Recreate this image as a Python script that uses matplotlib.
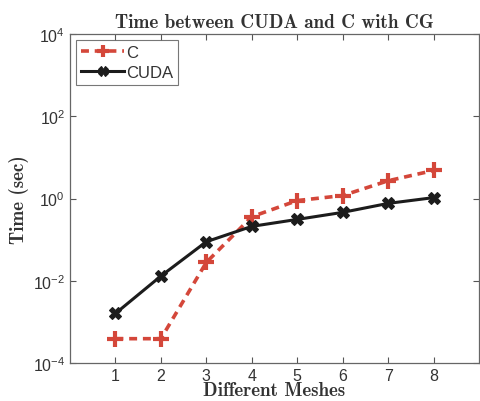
import matplotlib
matplotlib.use("Agg")
import matplotlib.pyplot as plt
from matplotlib.ticker import FixedLocator, NullLocator

meshes = [1, 2, 3, 4, 5, 6, 7, 8]
c_times = [3.9e-4, 3.9e-4, 0.028, 0.36, 0.89, 1.18, 2.7, 4.8]
cuda_times = [1.6e-3, 0.013, 0.089, 0.21, 0.31, 0.46, 0.76, 1.05]
ytick_vals = [1e-4, 1e-2, 1e0, 1e2, 1e4]
ytick_labels = ['$10^{-4}$', '$10^{-2}$', '$10^{0}$', '$10^{2}$', '$10^{4}$']

plt.rcParams['mathtext.fontset'] = 'custom'
plt.rcParams['mathtext.rm'] = 'Liberation Sans'
plt.rcParams['mathtext.it'] = 'Liberation Sans'
plt.rcParams['mathtext.default'] = 'rm'

fig = plt.figure(figsize=(4.81, 4.02), dpi=100)
ax = fig.add_axes([70/481, 1-364/402, 409/481, (364-35)/402])

red = '#d4473a'
black = '#1c1c1c'
ax.plot(meshes, c_times, linestyle=(0, (2.2, 1.6)), color=red, lw=2.6,
        marker='+', markersize=11, markeredgewidth=3, label='C')
ax.plot(meshes, cuda_times, linestyle='-', color=black, lw=2.2,
        marker='X', markersize=8, markeredgewidth=0.8, label='CUDA')

ax.set_yscale('log')
ax.set_xlim(0, 9)
ax.set_ylim(1e-4, 1e4)
ax.set_xticks(meshes)
ax.set_xticklabels([str(m) for m in meshes], family='Liberation Sans', fontsize=11.5, color='#333333')
ax.yaxis.set_major_locator(FixedLocator(ytick_vals))
ax.yaxis.set_minor_locator(NullLocator())
ax.set_yticklabels(ytick_labels, fontsize=11.5, color='#333333')
ax.tick_params(direction='in', top=True, right=True, length=4, width=0.8, colors='#555555', labelcolor='#333333')
for s in ax.spines.values():
    s.set_color('#666666')
    s.set_linewidth(0.9)

ax.set_title('Time between CUDA and C with CG', family='cmb10', fontsize=13.8, color='#333333', pad=5)
ax.set_xlabel('Different Meshes', family='cmb10', fontsize=13.7, color='#333333', labelpad=-1)
ax.set_ylabel('Time (sec)', family='cmb10', fontsize=13.7, color='#333333', labelpad=3)

leg = ax.legend(loc='upper left', prop={'family': 'Liberation Sans', 'size': 12},
                handlelength=2.6, handletextpad=0.1, borderpad=0.3, labelspacing=0.3,
                fancybox=False, borderaxespad=0.35, markerscale=0.85)
leg.get_frame().set_edgecolor('#555555')
leg.get_frame().set_linewidth(0.8)
for t in leg.get_texts():
    t.set_color('#333333')

fig.savefig('out.png', dpi=100)
